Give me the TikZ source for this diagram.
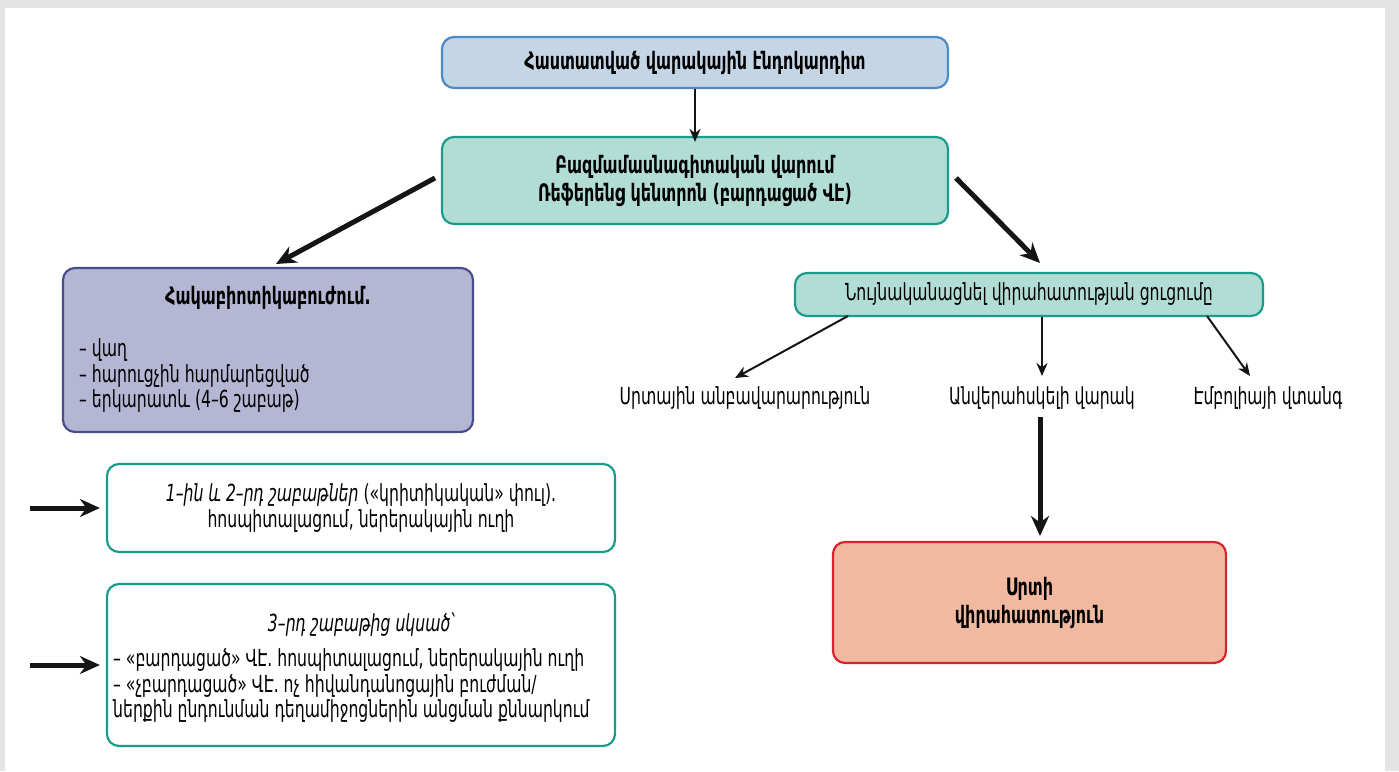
\documentclass[tikz,border=0pt]{standalone}
\usepackage{fontspec}
\usetikzlibrary{arrows.meta}
\newfontfamily\arm{DejaVu Sans Condensed}[FakeStretch=0.74,BoldFont={DejaVu Sans Condensed Bold},ItalicFont={DejaVu Sans Condensed Oblique}]
\definecolor{bgshade}{HTML}{E4E4E4}
\definecolor{bAfill}{HTML}{C4D5E6}
\definecolor{bAdraw}{HTML}{4E8AC4}
\definecolor{tealfill}{HTML}{B2DDD5}
\definecolor{tealdraw}{HTML}{1A9C8C}
\definecolor{purfill}{HTML}{B4B6D3}
\definecolor{purdraw}{HTML}{4A4D8C}
\definecolor{redfill}{HTML}{F0B9A0}
\definecolor{reddraw}{HTML}{D9232D}
\definecolor{arrowc}{HTML}{151515}
\tikzset{
  box/.style={rounded corners=12pt, line width=2.2pt, inner sep=0pt},
  txt/.style={font=\arm\fontsize{23.5}{25.5}\selectfont, text=black, inner sep=0pt},
  btxt/.style={font=\arm\bfseries\fontsize{24}{28}\selectfont, text=black, inner sep=0pt},
  thinarrow/.style={draw=arrowc, line width=2pt, -{Stealth[length=13pt,width=11pt]}},
  thickarrow/.style={draw=arrowc, line width=5pt, -{Stealth[length=20pt,width=18pt]}},
}
\begin{document}
\begin{tikzpicture}[x=1pt,y=-1pt]
\fill[bgshade] (0,0) rectangle (1399,771);
\fill[white] (5,8) rectangle (1385,771);
\useasboundingbox (0,0) rectangle (1399,771);

% boxes
\node[box, draw=bAdraw, fill=bAfill, minimum width=506pt, minimum height=51pt] (b1) at (695,62.5) {};
\node[btxt] (b1t) at (b1.center) {Հաստատված վարակային էնդոկարդիտ};

\node[box, draw=tealdraw, fill=tealfill, minimum width=506pt, minimum height=87pt] (b2) at (695,180.5) {};
\node[btxt, align=center] (b2t) at (b2.center) {Բազմամասնագիտական վարում\\Ռեֆերենց կենտրոն (բարդացած ՎԷ)};

\node[box, draw=purdraw, fill=purfill, minimum width=410pt, minimum height=164pt] (b3) at (268,350) {};
\node[btxt] (b3t) at (268,298) {Հակաբիոտիկաբուժում.};
\node[txt, align=left, anchor=west] (b3l) at (79,376) {– վաղ\\– հարուցչին հարմարեցված\\– երկարատև (4–6 շաբաթ)};

\node[box, draw=tealdraw, fill=tealfill, minimum width=468pt, minimum height=43pt] (b4) at (1029,294.5) {};
\node[txt] (b4t) at (b4.center) {Նույնականացնել վիրահատության ցուցումը};

\node[txt] (l1) at (745,398) {Սրտային անբավարարություն};
\node[txt] (l2) at (1042,398) {Անվերահսկելի վարակ};
\node[txt] (l3) at (1268,398) {Էմբոլիայի վտանգ};

\node[box, draw=reddraw, fill=redfill, minimum width=393pt, minimum height=121pt] (b5) at (1029.5,602.5) {};
\node[btxt, align=center] (b5t) at (b5.center) {Սրտի\\վիրահատություն};

\node[box, draw=tealdraw, fill=white, minimum width=508pt, minimum height=88pt] (b6) at (361,508) {};
\node[txt, align=center] (b6t) at (b6.center) {\itshape 1–ին և 2–րդ շաբաթներ\upshape{} («կրիտիկական» փուլ).\\հոսպիտալացում, ներերակային ուղի};

\node[box, draw=tealdraw, fill=white, minimum width=508pt, minimum height=162pt] (b7) at (361,665) {};
\node[txt, font=\arm\itshape\fontsize{23.5}{25.5}\selectfont] (b7t) at (361,625) {3–րդ շաբաթից սկսած՝};
\node[txt, align=left, anchor=west] (b7l) at (113,686) {– «բարդացած» ՎԷ. հոսպիտալացում, ներերակային ուղի\\– «չբարդացած» ՎԷ. ոչ հիվանդանոցային բուժման/\\ներքին ընդունման դեղամիջոցներին անցման քննարկում};

% coordinates for free ends and arrow ends
\coordinate (s1) at (30,508);
\coordinate (s2) at (30,665);
\coordinate (a2s) at (435,178);
\coordinate (a2e) at (276,264);
\coordinate (a3s) at (956,178);
\coordinate (a3e) at (1040,263);
\coordinate (c1s) at (848,316);
\coordinate (c1e) at (735,378);
\coordinate (c2e) at (1042,376);
\coordinate (c3s) at (1207,316);
\coordinate (c3e) at (1250,376);
\coordinate (d1s) at (1040,417);
\coordinate (d1e) at (1040,536);

% arrows
\draw[thinarrow] (b1.south) -- ([yshift=-6pt]b2.north);
\draw[thickarrow] (a2s) -- (a2e);
\draw[thickarrow] (a3s) -- (a3e);
\draw[thinarrow] (c1s) -- (c1e);
\draw[thinarrow] (b4.south -| c2e) -- (c2e);
\draw[thinarrow] (c3s) -- (c3e);
\draw[thickarrow] (d1s) -- (d1e);
\draw[thickarrow] (s1) -- ([xshift=-6pt]b6.west);
\draw[thickarrow] (s2) -- ([xshift=-6pt]b7.west);
\end{tikzpicture}
\end{document}
